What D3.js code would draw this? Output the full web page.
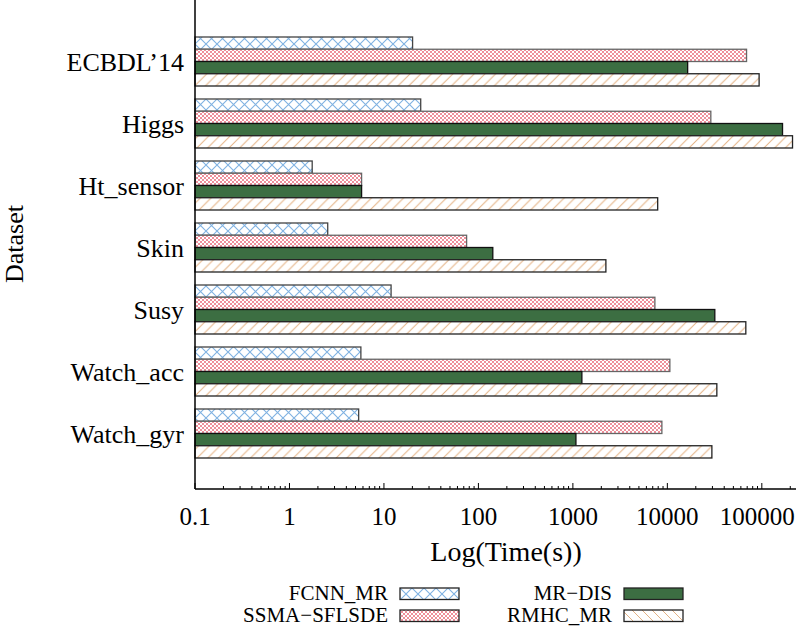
<!DOCTYPE html>
<html>
<head>
<meta charset="utf-8">
<script src="https://cdn.jsdelivr.net/npm/d3@7/dist/d3.min.js"></script>
<style>
  body { margin: 0; background: #fff; }
  text { font-family: "Liberation Serif", "DejaVu Serif", serif; fill: #000; }
</style>
</head>
<body>
<script>
// values (seconds, log axis)
var datasets = ['ECBDL’14', 'Higgs', 'Ht_sensor', 'Skin', 'Susy', 'Watch_acc', 'Watch_gyr'];
var series = ['FCNN_MR', 'SSMA−SFLSDE', 'MR−DIS', 'RMHC_MR'];
var fcnn = [20.1, 24.5, 1.74, 2.54, 11.9, 5.7, 5.4];
var ssma = [68900, 28850, 5.8, 75, 7380, 10630, 8750];
var mrdis = [16400, 165600, 5.8, 142, 31800, 1245, 1077];
var rmhc = [93600, 211300, 7900, 2235, 67700, 33400, 29600];
var tickValues = [0.1, 1, 10, 100, 1000, 10000, 100000];

var width = 796, height = 626;
var margin = { top: 0, right: 0, bottom: 137, left: 195 };
var plotW = width - margin.left - margin.right,
    plotH = height - margin.top - margin.bottom;

var svg = d3.select('body').append('svg')
    .attr('width', width)
    .attr('height', height);

// hatch patterns
var defs = svg.append('defs');

function crossPattern(id, size, color, sw) {
    var p = defs.append('pattern')
        .attr('id', id)
        .attr('patternUnits', 'userSpaceOnUse')
        .attr('width', size).attr('height', size);
    p.append('rect').attr('width', size).attr('height', size).attr('fill', '#fff');
    p.append('path')
        .attr('d', 'M0,0L' + size + ',' + size + 'M' + size + ',0L0,' + size)
        .attr('stroke', color).attr('stroke-width', sw).attr('fill', 'none');
}
function diagPattern(id, size, color, back) {
    var p = defs.append('pattern')
        .attr('id', id)
        .attr('patternUnits', 'userSpaceOnUse')
        .attr('width', size).attr('height', size);
    p.append('rect').attr('width', size).attr('height', size).attr('fill', '#fff');
    var d = back
        ? 'M0,0L' + size + ',' + size + 'M' + (-size) + ',0L' + size + ',' + (2 * size) + 'M0,' + (-size) + 'L' + (2 * size) + ',' + size
        : 'M0,' + size + 'L' + size + ',0M' + (-size) + ',' + size + 'L' + size + ',' + (-size) + 'M0,' + (2 * size) + 'L' + (2 * size) + ',0';
    p.append('path').attr('d', d)
        .attr('stroke', color).attr('stroke-width', 1).attr('fill', 'none');
}
crossPattern('fcnn', 11, '#7fb2e2', 1.1);
crossPattern('ssma', 4, '#ec8290', 0.9);
diagPattern('rmhc', 10.7, '#e4b283', false);
crossPattern('fcnnLeg', 12, '#7fb2e2', 1.1);
diagPattern('rmhcLeg', 10, '#e4b283', true);

var fills = ['url(#fcnn)', 'url(#ssma)', '#3c6e42', 'url(#rmhc)'];
var legFills = ['url(#fcnnLeg)', 'url(#ssma)', '#3c6e42', 'url(#rmhcLeg)'];
var strokes = ['#444', '#666', '#111', '#222'];
var values = [fcnn, ssma, mrdis, rmhc];

var g = svg.append('g')
    .attr('transform', 'translate(' + margin.left + ',' + margin.top + ')');

var x = d3.scaleLog().domain([0.1, 230000]).range([0, plotW]);
var y = d3.scalePoint().domain(datasets).range([61.5, 433.5]);
var inner = d3.scaleBand().domain(d3.range(4)).range([-24.5, 24.5]).paddingInner(0);

values.forEach(function (vals, si) {
    g.append('g').selectAll('rect')
        .data(vals)
        .enter()
        .append('rect')
        .attr('x', 0)
        .attr('y', function (d, i) { return y(datasets[i]) + inner(si); })
        .attr('width', function (d) { return x(d); })
        .attr('height', inner.bandwidth())
        .attr('fill', fills[si])
        .attr('stroke', strokes[si])
        .attr('stroke-width', 1.3);
});

// category labels
g.append('g').selectAll('text')
    .data(datasets)
    .enter()
    .append('text')
    .attr('x', -11)
    .attr('y', function (d) { return y(d) + 9; })
    .attr('text-anchor', 'end')
    .style('font-size', '26px')
    .text(function (d) { return d; });

// axes lines
g.append('line').attr('x1', 0).attr('x2', 0).attr('y1', 0).attr('y2', plotH)
    .attr('stroke', '#000').attr('stroke-width', 1.5);
g.append('line').attr('x1', 0).attr('x2', plotW).attr('y1', plotH).attr('y2', plotH)
    .attr('stroke', '#000').attr('stroke-width', 1.5);

// minor and major ticks, drawn inward
var minor = [];
tickValues.forEach(function (t) {
    for (var k = 2; k <= 9; k++) {
        if (t * k <= x.domain()[1]) minor.push(t * k);
    }
});
g.append('g').selectAll('line.minor')
    .data(minor)
    .enter()
    .append('line')
    .attr('x1', function (d) { return x(d); })
    .attr('x2', function (d) { return x(d); })
    .attr('y1', plotH).attr('y2', plotH - 3)
    .attr('stroke', '#000');
g.append('g').selectAll('line.major')
    .data(tickValues)
    .enter()
    .append('line')
    .attr('x1', function (d) { return x(d); })
    .attr('x2', function (d) { return x(d); })
    .attr('y1', plotH).attr('y2', plotH - 6)
    .attr('stroke', '#000');
g.append('g').selectAll('text')
    .data(tickValues)
    .enter()
    .append('text')
    .attr('x', function (d) { return x(d); })
    .attr('y', plotH + 36)
    .attr('text-anchor', function (d, i) { return i === tickValues.length - 1 ? 'end' : 'middle'; })
    .attr('dx', function (d, i) { return i === tickValues.length - 1 ? 33 : 0; })
    .style('font-size', '25px')
    .text(function (d) { return String(d); });

// axis titles
svg.append('text')
    .attr('x', 506)
    .attr('y', 561)
    .attr('text-anchor', 'middle')
    .style('font-size', '28px')
    .text('Log(Time(s))');
svg.append('text')
    .attr('transform', 'translate(23,244) rotate(-90)')
    .attr('text-anchor', 'middle')
    .style('font-size', '26px')
    .text('Dataset');

// legend
var legPos = [[388, 588], [388, 610], [612, 588], [612, 610]];
series.forEach(function (s, i) {
    var lg = svg.append('g')
        .attr('transform', 'translate(' + legPos[i][0] + ',' + legPos[i][1] + ')');
    lg.append('text')
        .attr('x', 0).attr('y', 12)
        .attr('text-anchor', 'end')
        .style('font-size', '21px')
        .text(s);
    lg.append('rect')
        .attr('x', 12).attr('y', 0)
        .attr('width', 59).attr('height', 11.5)
        .attr('fill', legFills[i])
        .attr('stroke', '#222').attr('stroke-width', 1.3);
});
</script>
</body>
</html>
